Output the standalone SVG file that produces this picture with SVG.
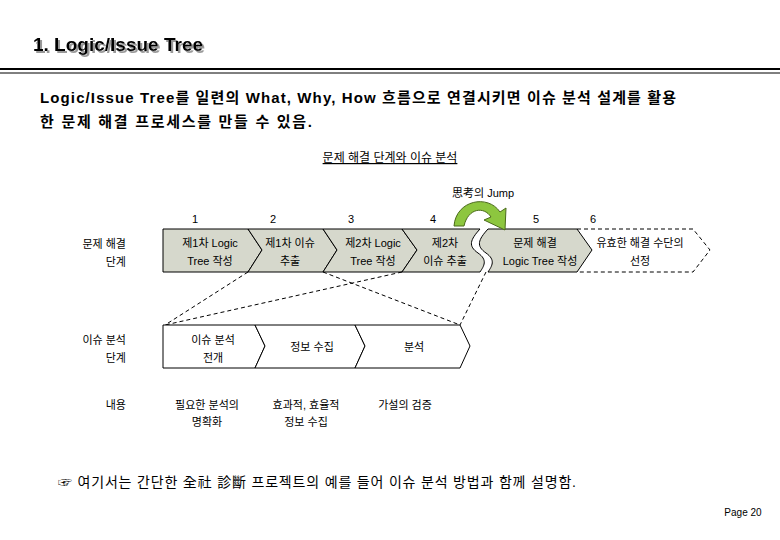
<svg xmlns="http://www.w3.org/2000/svg" width="780" height="540" viewBox="0 0 780 540">
<style>
text{font-family:"Liberation Sans","Noto Sans CJK KR",sans-serif;fill:#000}
.s{font-size:11px}
.c{text-anchor:middle}
.r{text-anchor:end}
.g{fill:#d6d8cc;stroke:#000;stroke-width:1}
.w{fill:#fff;stroke:#000;stroke-width:1}
.d{fill:none;stroke:#000;stroke-width:1;stroke-dasharray:4,3}
</style>
<defs>
<filter id="sh" x="-5%" y="-20%" width="110%" height="150%">
<feDropShadow dx="2" dy="2" stdDeviation="0.3" flood-color="#999"/>
</filter>
</defs>
<rect width="780" height="540" fill="#fff"/>
<g id="title">
<text x="33" y="51" font-size="19" font-weight="bold" filter="url(#sh)">1. Logic/Issue Tree</text>
<line x1="0" y1="69" x2="780" y2="69" stroke="#000" stroke-width="2"/>
<line x1="0" y1="73" x2="780" y2="73" stroke="#000" stroke-width="1"/>
</g>
<g id="intro">
<text x="40" y="103" font-size="15" font-weight="bold" textLength="636" lengthAdjust="spacing">Logic/Issue Tree를 일련의 What, Why, How 흐름으로 연결시키면 이슈 분석 설계를 활용</text>
<text x="40" y="127" font-size="15" font-weight="bold" textLength="272" lengthAdjust="spacing">한 문제 해결 프로세스를 만들 수 있음.</text>
</g>
<g id="subtitle">
<text x="390" y="162" class="c" font-size="12" text-decoration="underline">문제 해결 단계와 이슈 분석</text>
</g>
<g id="numbers">
<text x="192" y="223" class="s">1</text>
<text x="270" y="223" class="s">2</text>
<text x="348" y="223" class="s">3</text>
<text x="430" y="223" class="s">4</text>
<text x="533" y="223" class="s">5</text>
<text x="590" y="223" class="s">6</text>
</g>
<g id="labels">
<text x="126" y="248" class="s r">문제 해결</text>
<text x="126" y="266" class="s r">단계</text>
<text x="126" y="344" class="s r">이슈 분석</text>
<text x="126" y="362" class="s r">단계</text>
<text x="126" y="409" class="s r">내용</text>
</g>
<g id="step1">
<path class="g" d="M163,229 H248 L262,250 L248,272 H163 Z"/>
<text x="210" y="247" class="s c">제1차 Logic</text><text x="210" y="265" class="s c">Tree 작성</text>
</g>
<g id="step2">
<path class="g" d="M248,229 H323 L337,250 L323,272 H248 L262,250 Z"/>
<text x="290" y="247" class="s c">제1차 이슈</text><text x="290" y="265" class="s c">추출</text>
</g>
<g id="step3">
<path class="g" d="M323,229 H402 L417,250 L402,272 H323 L337,250 Z"/>
<text x="373" y="247" class="s c">제2차 Logic</text><text x="373" y="265" class="s c">Tree 작성</text>
</g>
<g id="step4">
<path class="g" d="M402,229 H480 C470,240 468,246 478,253 C488,260 484,266 480,272 H402 L417,250 Z"/>
<text x="445" y="247" class="s c">제2차</text><text x="445" y="265" class="s c">이슈 추출</text>
</g>
<g id="step5">
<path class="g" d="M488,229 H577 L592,250 L577,272 H488 C492,266 496,260 486,253 C476,246 478,240 488,229 Z"/>
<text x="535" y="247" class="s c">문제 해결</text><text x="540" y="265" class="s c">Logic Tree 작성</text>
</g>
<g id="step6">
<path class="d" d="M577,229 H693 L710,250 L693,272 H577"/>
<text x="640" y="247" class="s c">유효한 해결 수단의</text><text x="640" y="265" class="s c">선정</text>
</g>
<g id="jump">
<text x="483" y="197" class="s c">思考의 Jump</text>
<path d="M454,226 C456,200 488,194 500,212 L506,208 L505,230 L484,220 L491,217 C484,206 468,208 464,226 Z" fill="#8dc63f" stroke="#4a6a1a" stroke-width="1"/>
</g>
<g id="connectors">
<line class="d" x1="248" y1="272" x2="165" y2="325"/>
<line class="d" x1="402" y1="272" x2="165" y2="325"/>
<line class="d" x1="323" y1="272" x2="460" y2="325"/>
<line class="d" x1="486" y1="272" x2="460" y2="325"/>
</g>
<g id="issue1">
<path class="w" d="M163,325 H255 L265,346 L255,368 H163 Z"/>
<text x="213" y="344" class="s c">이슈 분석</text><text x="213" y="362" class="s c">전개</text>
</g>
<g id="issue2">
<path class="w" d="M255,325 H355 L365,346 L355,368 H255 L265,346 Z"/>
<text x="312" y="351" class="s c">정보 수집</text>
</g>
<g id="issue3">
<path class="w" d="M355,325 H460 L470,346 L460,368 H355 L365,346 Z"/>
<text x="414" y="351" class="s c">분석</text>
</g>
<g id="content">
<text x="207" y="409" class="s c">필요한 분석의</text><text x="207" y="426" class="s c">명확화</text>
<text x="306" y="409" class="s c">효과적, 효율적</text><text x="306" y="426" class="s c">정보 수집</text>
<text x="405" y="409" class="s c">가설의 검증</text>
</g>
<g id="footnote">
<text x="58" y="487" font-size="14" textLength="518" lengthAdjust="spacing">☞ 여기서는 간단한 全社 診斷 프로젝트의 예를 들어 이슈 분석 방법과 함께 설명함.</text>
<text x="743" y="516" class="c" font-size="10">Page 20</text>
</g>
</svg>
